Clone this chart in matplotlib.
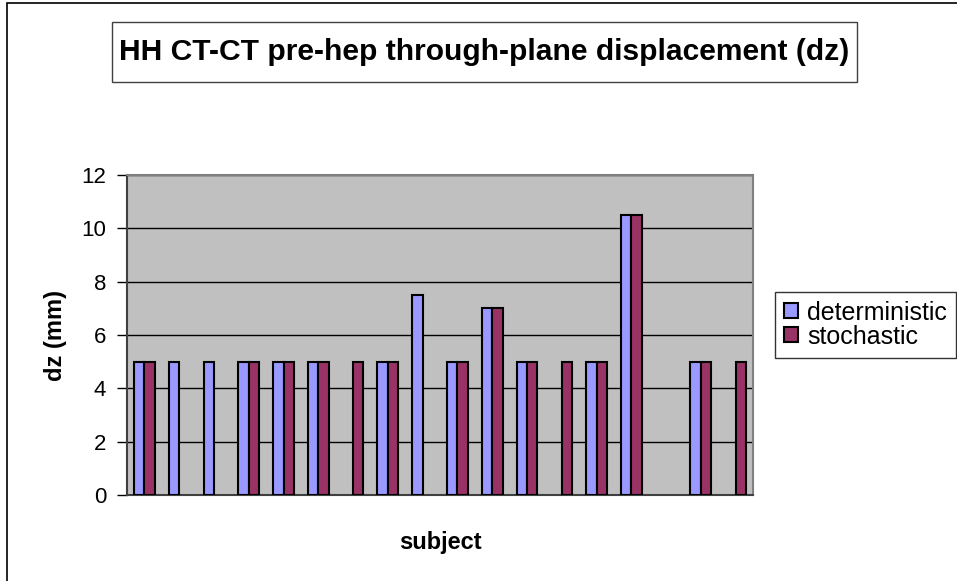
import numpy as np
import matplotlib.pyplot as plt
from matplotlib.patches import Rectangle

plt.rcParams['font.family'] = ['Liberation Sans', 'DejaVu Sans']

subjects = list(range(1, 19))
deterministic = [5, 5, 5, 5, 5, 5, 0, 5, 7.5, 5, 7, 5, 0, 5, 10.5, 0, 5, 0]
stochastic = [5, 0, 0, 5, 5, 5, 5, 5, 0, 5, 7, 5, 5, 5, 10.5, 0, 5, 5]
yticks = [0, 2, 4, 6, 8, 10, 12]

W, H = 957, 581
fig = plt.figure(figsize=(W / 100, H / 100), dpi=100)
ax = fig.add_axes([127 / W, 1 - 495 / H, 626 / W, 320 / H])

x = np.arange(len(subjects))
w = 0.3
det = np.array(deterministic, dtype=float)
sto = np.array(stochastic, dtype=float)
# empty cells in the sheet -> no bar at all
md = det > 0
ms = sto > 0
ax.bar(x[md] - w / 2, det[md], w, color='#9999FF', edgecolor='black',
       linewidth=1.5, label='deterministic', zorder=3)
ax.bar(x[ms] + w / 2, sto[ms], w, color='#993366', edgecolor='black',
       linewidth=1.5, label='stochastic', zorder=3)

ax.set_facecolor('#C0C0C0')
ax.set_xlim(-0.5, len(subjects) - 0.5)
ax.set_ylim(0, 12)
ax.set_yticks(yticks)
ax.set_xticks([])
ax.yaxis.grid(True, color='black', linewidth=1)
ax.set_axisbelow(True)
ax.tick_params(axis='y', labelsize=16, length=7, width=1, pad=8, direction='out')
for s in ['top', 'right']:
    ax.spines[s].set_color('#808080')
    ax.spines[s].set_linewidth(1.5)
for s in ['left', 'bottom']:
    ax.spines[s].set_color('#404040')
    ax.spines[s].set_linewidth(1.5)

ax.set_ylabel('dz (mm)', fontsize=17, fontweight='bold', labelpad=10)
ax.set_xlabel('subject', fontsize=17, fontweight='bold', labelpad=26)

# title with its own box
fig.patches.append(Rectangle((112 / W, 1 - 82 / H), 745 / W, 60 / H,
                             transform=fig.transFigure, facecolor='white',
                             edgecolor='#404040', linewidth=1))
fig.text(484 / W, 1 - 52 / H, 'HH CT-CT pre-hep through-plane displacement (dz)',
         ha='center', va='center', fontsize=21.6, fontweight='bold')

leg = fig.legend(loc='upper left', bbox_to_anchor=(775 / W, 1 - 292 / H),
                 fontsize=18, frameon=True, fancybox=False, edgecolor='black',
                 handlelength=0.55, handleheight=0.55, handletextpad=0.4,
                 borderpad=0.35, labelspacing=0.0, borderaxespad=0)
leg.get_frame().set_linewidth(1)

# chart area border
fig.patches.append(Rectangle((7 / W, -0.05), 1.0, 1 - 3 / H + 0.05,
                             transform=fig.transFigure, fill=False,
                             edgecolor='black', linewidth=1.2))

fig.savefig('out.png', dpi=100)
